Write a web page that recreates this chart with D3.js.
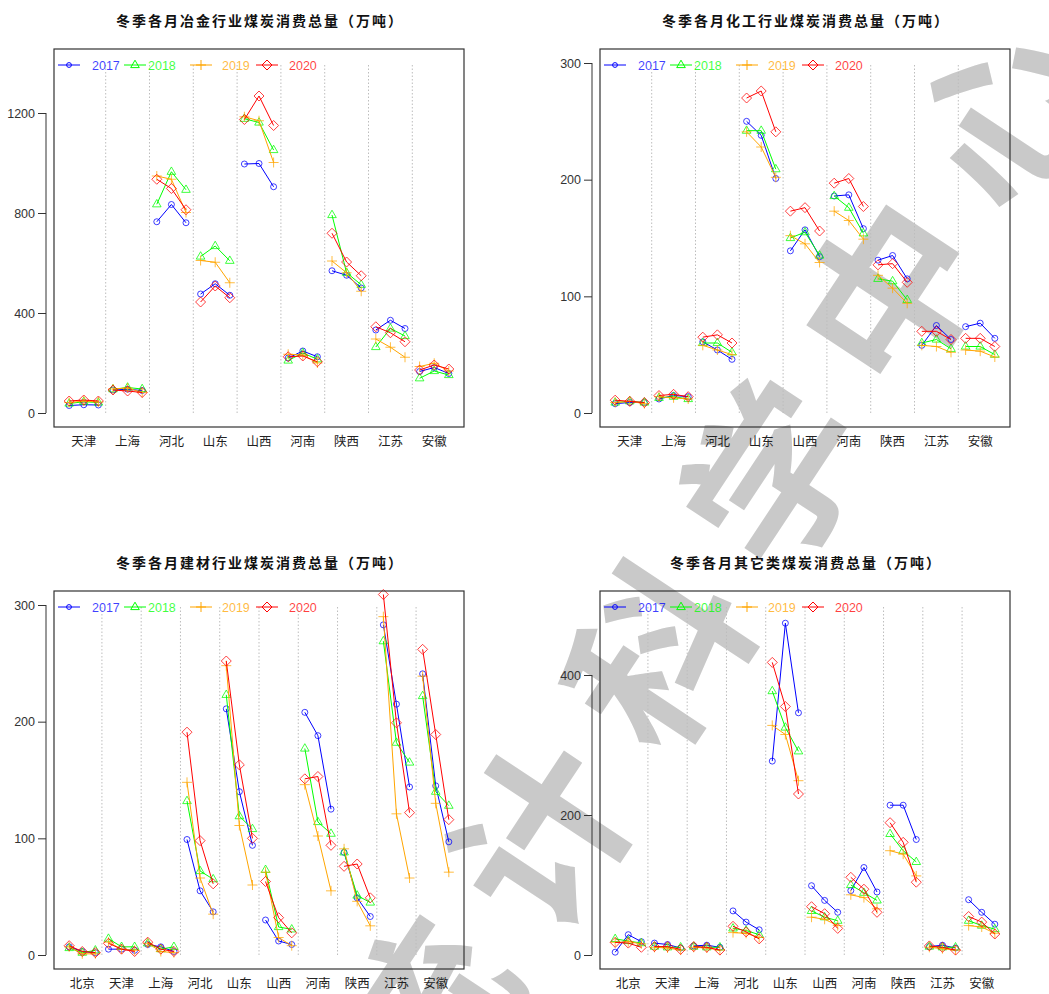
<!DOCTYPE html>
<html>
<head>
<meta charset="utf-8">
<script src="https://cdn.jsdelivr.net/npm/d3@7"></script>
<style>
  body { margin: 0; background: #fff; }
  svg { display: block; }
</style>
</head>
<body>
<svg id="chart" width="1049" height="994"></svg>
<script>
// ---- data (万吨), 3 winter months per province ----
const provinces9 = ["天津", "上海", "河北", "山东", "山西", "河南", "陕西", "江苏", "安徽"];
const provinces10 = ["北京", "天津", "上海", "河北", "山东", "山西", "河南", "陕西", "江苏", "安徽"];
const years = ["2017", "2018", "2019", "2020"];
const titles = [
    "冬季各月冶金行业煤炭消费总量（万吨）",
    "冬季各月化工行业煤炭消费总量（万吨）",
    "冬季各月建材行业煤炭消费总量（万吨）",
    "冬季各月其它类煤炭消费总量（万吨）"
];

const yejin2017 = [[30,33,32],[92,95,90],[765,834,761],[476,517,471],[996,998,905],[220,248,225],[569,551,500],[332,371,338],[166,182,158]];
const yejin2018 = [[38,45,42],[95,102,96],[835,965,893],[626,668,609],[1177,1162,1052],[210,240,215],[792,561,513],[264,338,308],[139,168,152]];
const yejin2019 = [[42,48,44],[96,100,82],[948,935,802],[610,603,521],[1185,1169,1002],[235,232,200],[608,561,487],[296,263,223],[186,199,168]];
const yejin2020 = [[48,52,48],[92,88,82],[935,898,813],[444,508,461],[1174,1268,1150],[225,228,205],[719,604,549],[345,321,285],[172,192,176]];

const huagong2017 = [[8,9,9],[12,15,14],[61,54,46],[250,238,201],[139,157,134],[186,187,158],[131,135,115],[58,75,63],[74,77,64]];
const huagong2018 = [[9,10,9],[13,14,12],[60,60,52],[242,242,209],[150,155,135],[186,176,154],[115,113,97],[60,63,55],[57,57,50]];
const huagong2019 = [[9,10,8],[14,13,12],[58,54,50],[241,228,202],[152,145,129],[173,165,149],[118,107,94],[58,57,52],[54,53,48]];
const huagong2020 = [[11,10,9],[15,16,14],[65,67,60],[270,276,241],[173,176,156],[197,201,177],[127,128,112],[70,70,63],[64,64,57]];

const jiancai2017 = [[7,3,2],[5,5,4],[9,7,3],[99,55,37],[211,140,94],[30,12,9],[208,188,125],[88,49,33],[283,215,144],[241,145,97]];
const jiancai2018 = [[6,2,4],[14,7,7],[10,5,7],[132,72,65],[223,119,108],[73,24,22],[177,114,104],[88,51,45],[269,182,165],[222,140,128]];
const jiancai2019 = [[7,1,1],[11,5,4],[10,3,2],[148,66,35],[248,111,60],[71,15,8],[146,102,55],[91,46,25],[290,121,66],[239,130,71]];
const jiancai2020 = [[8,3,2],[10,5,3],[11,5,3],[191,98,61],[252,163,100],[63,32,19],[151,153,94],[76,78,49],[309,199,122],[262,189,116]];

const qita2017 = [[4,29,19],[17,15,10],[13,14,11],[63,47,36],[277,474,346],[99,78,61],[92,125,90],[214,214,165],[12,14,10],[79,61,44]];
const qita2018 = [[23,20,17],[12,11,11],[12,11,11],[38,35,29],[377,325,291],[63,54,49],[100,89,78],[173,149,133],[12,11,11],[49,42,37]];
const qita2019 = [[18,19,16],[11,10,7],[11,10,7],[32,31,25],[328,315,249],[54,51,42],[86,82,66],[149,144,113],[11,9,7],[42,40,31]];
const qita2020 = [[18,17,11],[12,12,8],[12,11,7],[41,33,23],[418,355,230],[69,59,38],[111,94,61],[189,161,104],[13,11,7],[55,47,30]];

const yMaxes = [1400, 300, 300, 500];
const yTicks = [[0, 400, 800, 1200], [0, 100, 200, 300], [0, 100, 200, 300], [0, 200, 400]];

const colors = ["#0000ff", "#00ff00", "#ffa500", "#ff0000"];
const shapes = ["circle", "triangle", "plus", "diamond"];

const svg = d3.select("#chart");

// watermark
const wmChars = ["统", "计", "科", "学", "中", "心"];
const wm = svg.append("g");
wmChars.forEach(function(c, i) {
    const cx = 417 + i * 116, cy = 1008 - i * 180;
    wm.append("text")
        .attr("transform", "translate(" + cx + "," + cy + ") rotate(-56.5)")
        .attr("text-anchor", "middle")
        .attr("dominant-baseline", "central")
        .style("font-family", "'Noto Sans CJK SC'")
        .style("font-weight", "bold")
        .style("font-size", "175px")
        .attr("fill", "#c9c9c9")
        .text(c);
});

const panels = [
    {title: titles[0], provs: provinces9,  series: [yejin2017, yejin2018, yejin2019, yejin2020],       ymax: yMaxes[0], ticks: yTicks[0], left: 54,  top: 49},
    {title: titles[1], provs: provinces9,  series: [huagong2017, huagong2018, huagong2019, huagong2020], ymax: yMaxes[1], ticks: yTicks[1], left: 600, top: 49},
    {title: titles[2], provs: provinces10, series: [jiancai2017, jiancai2018, jiancai2019, jiancai2020], ymax: yMaxes[2], ticks: yTicks[2], left: 54,  top: 591},
    {title: titles[3], provs: provinces10, series: [qita2017, qita2018, qita2019, qita2020],             ymax: yMaxes[3], ticks: yTicks[3], left: 600, top: 591}
];

const W = 410, H = 378;

function symbolPath(shape, s) {
    s = s || 1;
    if (shape === "circle") {
        const r = 3 * s;
        return "M" + (-r) + ",0A" + r + "," + r + " 0 1,0 " + r + ",0A" + r + "," + r + " 0 1,0 " + (-r) + ",0Z";
    }
    if (shape === "triangle") return "M0," + (-4.8*s) + "L" + (4.3*s) + "," + (2.6*s) + "L" + (-4.3*s) + "," + (2.6*s) + "Z";
    if (shape === "plus") return "M" + (-5*s) + ",0H" + (5*s) + "M0," + (-5*s) + "V" + (5*s);
    return "M0," + (-5*s) + "L" + (5*s) + ",0L0," + (5*s) + "L" + (-5*s) + ",0Z";
}

function drawPanel(p) {
    const g = svg.append("g");
    const n = p.provs.length * 3;
    const x = d3.scaleLinear()
        .domain([1 - 0.04 * (n - 1), n + 0.04 * (n - 1)])
        .range([p.left, p.left + W]);
    const y = d3.scaleLinear()
        .domain([-0.04 * p.ymax, 1.04 * p.ymax])
        .range([p.top + H, p.top]);

    // title
    g.append("text")
        .attr("x", p.left + W / 2 + 1)
        .attr("y", p.top - 23)
        .attr("text-anchor", "middle")
        .style("font-family", "'Noto Sans CJK SC'")
        .style("font-weight", "bold")
        .style("font-size", "14px")
        .style("letter-spacing", "2px")
        .attr("fill", "#111")
        .text(p.title);

    // separators
    d3.range(1, p.provs.length).forEach(function(k) {
        g.append("line")
            .attr("x1", x(3 * k + 0.5)).attr("x2", x(3 * k + 0.5))
            .attr("y1", y(0)).attr("y2", y(p.ymax))
            .attr("stroke", "#bdbdbd")
            .attr("stroke-dasharray", "1.5,2")
            .attr("stroke-width", 1);
    });

    // y axis
    const axis = g.append("g")
        .attr("transform", "translate(" + (p.left - 8) + ",0)")
        .call(d3.axisLeft(y).tickValues(p.ticks).tickFormat(d3.format("d")).tickSize(8).tickPadding(3));
    axis.select(".domain").remove();
    axis.selectAll("line").attr("stroke", "#333");
    axis.selectAll("text")
        .style("font-family", "'Liberation Sans', Arial, sans-serif")
        .style("font-size", "12.5px")
        .attr("fill", "#333");
    axis.append("line")
        .attr("y1", y(p.ticks[0])).attr("y2", y(p.ticks[p.ticks.length - 1]))
        .attr("stroke", "#333");

    // x labels
    p.provs.forEach(function(name, k) {
        g.append("text")
            .attr("x", x(3 * k + 2))
            .attr("y", p.top + H + 19)
            .attr("text-anchor", "middle")
            .style("font-family", "'Noto Sans CJK SC'")
            .style("font-size", "12.5px")
            .attr("fill", "#222")
            .text(name);
    });

    // series
    const line = d3.line().x(d => x(d[0])).y(d => y(d[1]));
    p.series.forEach(function(rows, s) {
        rows.forEach(function(vals, k) {
            const pts = vals.map((v, j) => [3 * k + j + 1, v]);
            g.append("path")
                .attr("d", line(pts))
                .attr("fill", "none")
                .attr("stroke", colors[s])
                .attr("stroke-width", 1);
            pts.forEach(function(pt) {
                g.append("path")
                    .attr("transform", "translate(" + x(pt[0]) + "," + y(pt[1]) + ")")
                    .attr("d", symbolPath(shapes[s]))
                    .attr("fill", "none")
                    .attr("stroke", colors[s])
                    .attr("stroke-opacity", 0.75)
                    .attr("stroke-width", 1);
            });
        });
    });

    // legend
    const ly = y(p.ymax) + 2;
    const lineStarts = [4, 70, 136, 202];
    const textStarts = [38, 94, 168, 235];
    years.forEach(function(yr, s) {
        const lx = p.left + lineStarts[s];
        g.append("line")
            .attr("x1", lx).attr("x2", lx + 22)
            .attr("y1", ly).attr("y2", ly)
            .attr("stroke", colors[s]);
        g.append("path")
            .attr("transform", "translate(" + (lx + 11) + "," + ly + ")")
            .attr("d", symbolPath(shapes[s], s === 0 ? 0.8 : 1))
            .attr("fill", "none")
            .attr("stroke", colors[s]);
        g.append("text")
            .attr("x", p.left + textStarts[s])
            .attr("y", ly + 4.5)
            .style("font-family", "'Liberation Sans', Arial, sans-serif")
            .style("font-size", "12.5px")
            .attr("fill", colors[s])
            .attr("fill-opacity", 0.75)
            .text(yr);
    });

    // box
    g.append("rect")
        .attr("x", p.left).attr("y", p.top)
        .attr("width", W).attr("height", H)
        .attr("fill", "none")
        .attr("stroke", "#333")
        .attr("stroke-width", 1.2);
}

panels.forEach(drawPanel);
</script>
</body>
</html>
